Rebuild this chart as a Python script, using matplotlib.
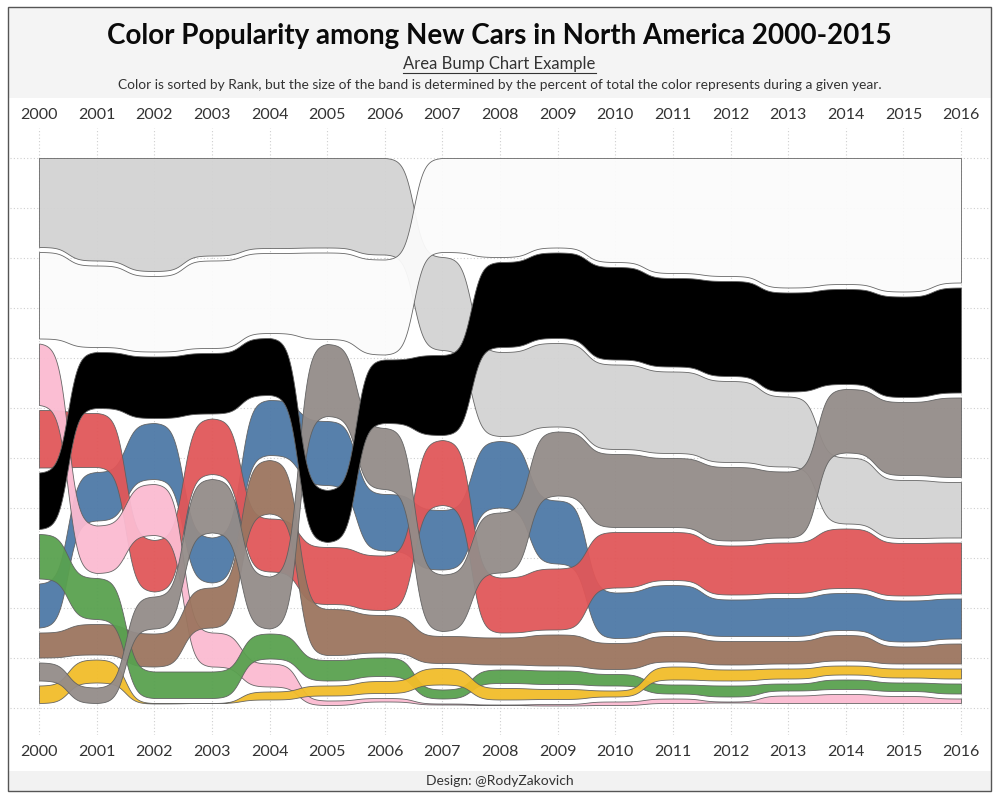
import numpy as np
import matplotlib
matplotlib.use("Agg")
import matplotlib.pyplot as plt
from matplotlib.lines import Line2D
from matplotlib.patches import Rectangle

# ---------------- data ----------------
years = list(range(2000, 2017))
color_names = ["Silver", "White", "Black", "Gray", "Red", "Blue", "Green", "Brown", "Yellow", "Pink"]

# percent of total per year
silver_pct = [17.8, 20.5, 22.6, 19.5, 18.0, 17.9, 19.3, 18.6, 16.8, 16.7, 16.9, 16.3, 16.2, 14.0, 13.2, 11.6, 11.1]
white_pct = [17.3, 16.3, 15.1, 17.5, 16.0, 17.3, 19.0, 18.8, 19.8, 17.9, 20.8, 23.0, 23.6, 25.9, 25.2, 26.7, 24.9]
black_pct = [11.3, 11.2, 12.3, 12.1, 11.4, 10.4, 12.7, 16.0, 17.0, 17.1, 18.5, 17.7, 19.0, 19.8, 19.0, 20.1, 21.0]
gray_pct = [3.6, 3.1, 6.4, 10.7, 10.4, 14.4, 12.2, 11.3, 12.0, 12.8, 14.6, 13.8, 14.7, 13.2, 12.7, 14.6, 15.9]
red_pct = [11.5, 10.8, 10.3, 11.1, 10.6, 11.4, 10.9, 13.0, 11.0, 12.2, 11.1, 9.6, 9.8, 10.1, 11.9, 10.5, 10.2]
blue_pct = [8.8, 9.7, 11.2, 9.0, 11.0, 12.8, 11.3, 11.9, 13.3, 12.6, 9.1, 9.2, 7.3, 7.6, 7.4, 8.2, 8.0]
green_pct = [8.9, 8.2, 5.3, 5.3, 5.0, 4.1, 3.7, 1.8, 2.7, 2.7, 2.3, 1.8, 2.2, 1.4, 1.9, 1.7, 2.0]
brown_pct = [5.0, 6.1, 6.6, 8.0, 10.7, 9.2, 7.5, 5.4, 5.4, 6.2, 5.2, 5.1, 4.7, 4.5, 5.1, 3.4, 4.0]
yellow_pct = [3.5, 4.6, 0.1, 0.0, 1.6, 2.0, 2.4, 3.3, 2.3, 2.0, 1.2, 2.6, 2.2, 2.0, 1.8, 1.8, 2.0]
pink_pct = [12.3, 9.5, 10.2, 6.8, 4.6, 0.9, 0.7, 0.2, 0.1, 0.3, 0.7, 0.9, 0.2, 1.5, 1.8, 1.4, 0.9]

# rank per year (1 = top)
silver_rank = [1, 1, 1, 1, 1, 1, 1, 2, 3, 3, 3, 3, 3, 3, 4, 4, 4]
white_rank = [2, 2, 2, 2, 2, 2, 2, 1, 1, 1, 1, 1, 1, 1, 1, 1, 1]
black_rank = [5, 3, 3, 3, 3, 5, 3, 3, 2, 2, 2, 2, 2, 2, 2, 2, 2]
gray_rank = [9, 10, 7, 5, 7, 3, 4, 6, 5, 4, 4, 4, 4, 4, 3, 3, 3]
red_rank = [4, 4, 6, 4, 6, 6, 6, 4, 6, 6, 5, 5, 5, 5, 5, 5, 5]
blue_rank = [7, 5, 4, 6, 4, 4, 5, 5, 4, 5, 6, 6, 6, 6, 6, 6, 6]
green_rank = [6, 7, 9, 9, 8, 8, 8, 9, 8, 8, 8, 9, 9, 9, 9, 9, 9]
brown_rank = [8, 8, 8, 7, 5, 7, 7, 7, 7, 7, 7, 7, 7, 7, 7, 7, 7]
yellow_rank = [10, 9, 10, 10, 10, 9, 9, 8, 9, 9, 9, 8, 8, 8, 8, 8, 8]
pink_rank = [3, 6, 5, 8, 9, 10, 10, 10, 10, 10, 10, 10, 10, 10, 10, 10, 10]

title = "Color Popularity among New Cars in North America 2000-2015"
subtitle = "Area Bump Chart Example"
caption = ("Color is sorted by Rank, but the size of the band is determined by the "
           "percent of total the color represents during a given year.")
credit = "Design: @RodyZakovich"

# ---------------- styles ----------------
pct = dict(zip(color_names, [silver_pct, white_pct, black_pct, gray_pct, red_pct,
                             blue_pct, green_pct, brown_pct, yellow_pct, pink_pct]))
rank = dict(zip(color_names, [silver_rank, white_rank, black_rank, gray_rank, red_rank,
                              blue_rank, green_rank, brown_rank, yellow_rank, pink_rank]))
fill = {"Silver": "#d3d3d3", "White": "#fbfbfb", "Black": "#000000", "Gray": "#948c89",
        "Red": "#e15759", "Blue": "#4e79a7", "Green": "#59a14f", "Brown": "#9c755f",
        "Yellow": "#f2bd2a", "Pink": "#fbbbd1"}
alpha = {c: 0.95 for c in color_names}
alpha["Black"] = 1.0
draw_order = ["Silver", "White", "Blue", "Red", "Pink", "Brown", "Green", "Yellow", "Gray", "Black"]
GAP = 1.0

# stacked positions (top edge) per colour per year
tops = {c: [] for c in color_names}
for j in range(len(years)):
    order = sorted(color_names, key=lambda c: rank[c][j])
    cum = 0.0
    for c in order:
        tops[c].append(cum)
        cum += pct[c][j] + GAP

K = 11.0
t = np.linspace(0, 1, 90)
s_raw = 1 / (1 + np.exp(-K * (t - 0.5)))
s = (s_raw - s_raw[0]) / (s_raw[-1] - s_raw[0])


def curve(vals):
    xs, ys = [], []
    for j in range(len(years) - 1):
        xs.append(years[j] + t)
        ys.append(vals[j] + (vals[j + 1] - vals[j]) * s)
    return np.concatenate(xs), np.concatenate(ys)


W, H = 999, 799
fig = plt.figure(figsize=(W / 100, H / 100), dpi=100)
fig.patch.set_facecolor("white")
FONT = "Lato"

# header / footer / frame
fig.patches.append(Rectangle((9 / W, 1 - 98 / H), 982 / W, 90 / H, transform=fig.transFigure,
                             facecolor="#f4f4f4", edgecolor="none", zorder=0))
fig.patches.append(Rectangle((9 / W, 1 - 791 / H), 982 / W, 20 / H, transform=fig.transFigure,
                             facecolor="#f2f2f2", edgecolor="none", zorder=0))
fig.patches.append(Rectangle((8 / W, 1 - 791 / H), 983 / W, 784 / H, transform=fig.transFigure,
                             facecolor="none", edgecolor="#555555", linewidth=1.0, zorder=5))

ax = fig.add_axes([10 / W, 1 - 735 / H, 980 / W, 607 / H])
ax.set_xlim(2000 + (10 - 39) / 57.625, 2000 + (990 - 39) / 57.625)
ax.set_ylim((735 - 158) / 5, (128 - 158) / 5)
ax.set_axis_off()

# grid
for y in range(0, 111, 10):
    ax.axhline(y, color="#cfcfcf", lw=0.8, ls=(0, (1, 2)), zorder=0)
for yr in years:
    ax.axvline(yr, color="#cfcfcf", lw=0.8, ls=(0, (1, 2)), zorder=0)

for i, c in enumerate(draw_order):
    top = tops[c]
    bot = [tp + v for tp, v in zip(top, pct[c])]
    x, yt = curve(top)
    _, yb = curve(bot)
    ax.fill_between(x, yt, yb, facecolor=fill[c], edgecolor="#5f5f5f", linewidth=0.6,
                    alpha=alpha[c], zorder=2 + i)

for yr in years:
    ax.text(yr, (115 - 158) / 5, str(yr), ha="center", va="center", fontsize=11.5,
            color="#333333", family=FONT, clip_on=False)
    ax.text(yr, (752 - 158) / 5, str(yr), ha="center", va="center", fontsize=11.5,
            color="#333333", family=FONT, clip_on=False)

fig.text(0.5, 1 - 36 / H, title, ha="center", va="center", fontsize=20, fontweight="bold",
         family=FONT, color="#0a0a0a")
sub = fig.text(0.5, 1 - 64 / H, subtitle, ha="center", va="center", fontsize=12,
               family=FONT, color="#333333")
fig.text(0.5, 1 - 85 / H, caption, ha="center", va="center", fontsize=9.9, family=FONT,
         color="#333333")
fig.text(0.5, 1 - 781 / H, credit, ha="center", va="center", fontsize=10, family=FONT,
         color="#333333")

# underline for subtitle
fig.canvas.draw()
bb = sub.get_window_extent(renderer=fig.canvas.get_renderer())
uy = (bb.y0 - 1) / H
fig.add_artist(Line2D([bb.x0 / W, bb.x1 / W], [uy, uy], transform=fig.transFigure,
                      color="#333333", lw=0.8))

fig.savefig("out.png", dpi=100)
